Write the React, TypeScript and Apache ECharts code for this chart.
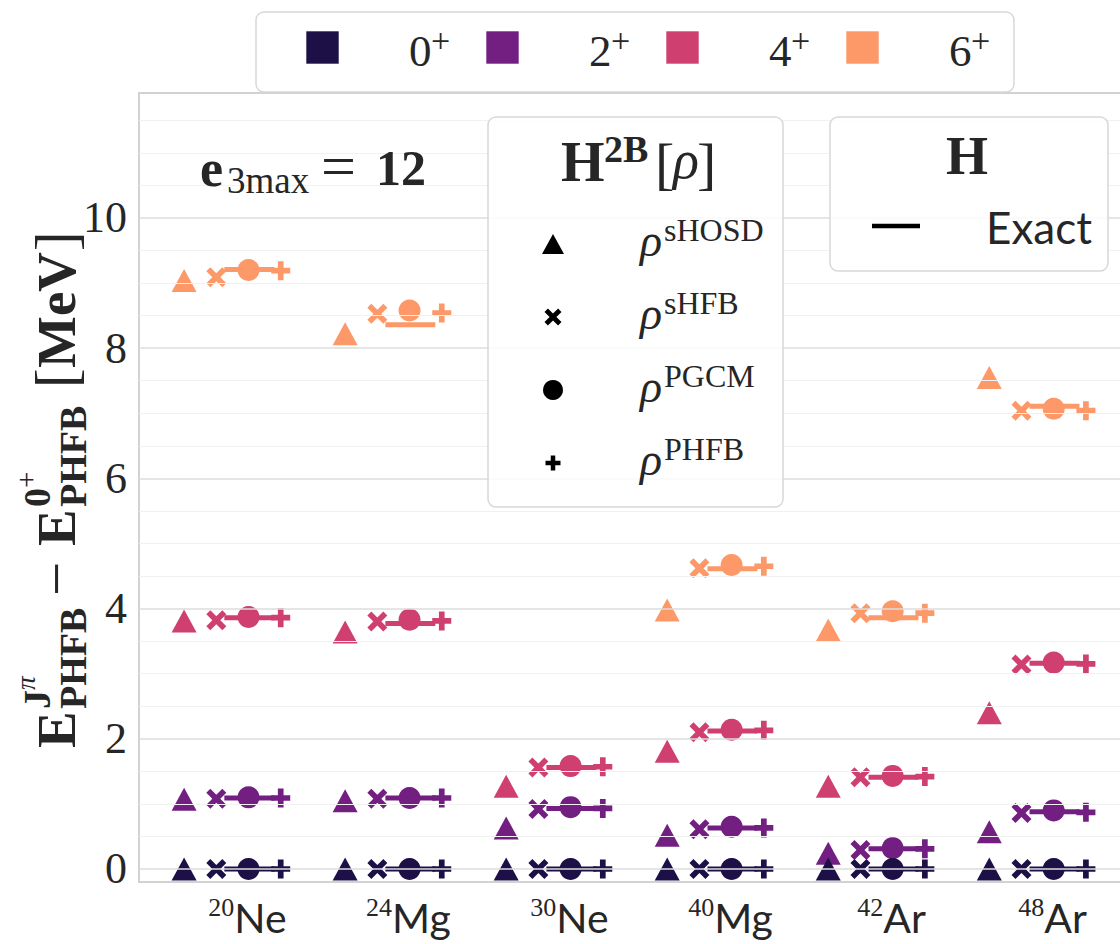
import React, { useEffect, useRef } from 'react';
import * as echarts from 'echarts';

// Nuclei along the x axis
const nucleusMass = ['20', '24', '30', '40', '42', '48'];
const nucleusSymbol = ['Ne', 'Mg', 'Ne', 'Mg', 'Ar', 'Ar'];

// Spin-parity states (J^pi = 0+, 2+, 4+, 6+)
const spinLabels = ['0', '2', '4', '6'];

const yTicks = [0, 2, 4, 6, 8, 10];
const yMinorGrid = [0.5, 1, 1.5, 2.5, 3, 3.5, 4.5, 5, 5.5, 6.5, 7, 7.5, 8.5, 9, 9.5, 10.5, 11, 11.5];
const yMajorGrid = [0, 2, 4, 6, 8, 10];

// Excitation energies [MeV]; rows = 0+, 2+, 4+, 6+, columns = nuclei
const rhoSHOSD = [
  [0, 0, 0, 0, 0, 0],
  [1.07, 1.05, 0.63, 0.52, 0.24, 0.57],
  [3.81, 3.64, 1.27, 1.81, 1.27, 2.4],
  [9.04, 8.22, null, 3.98, 3.67, 7.55],
];
const rhoSHFB = [
  [0, 0, 0, 0, 0, 0],
  [1.08, 1.08, 0.92, 0.61, 0.29, 0.86],
  [3.82, 3.8, 1.56, 2.1, 1.41, 3.14],
  [9.09, 8.53, null, 4.62, 3.93, 7.04],
];
const rhoPGCM = [
  [0, 0, 0, 0, 0, 0],
  [1.1, 1.09, 0.95, 0.65, 0.32, 0.9],
  [3.87, 3.83, 1.58, 2.14, 1.43, 3.17],
  [9.2, 8.58, null, 4.67, 3.96, 7.07],
];
const rhoPHFB = [
  [0, 0, 0, 0, 0, 0],
  [1.09, 1.09, 0.93, 0.63, 0.31, 0.87],
  [3.86, 3.81, 1.57, 2.13, 1.42, 3.15],
  [9.19, 8.54, null, 4.65, 3.93, 7.04],
];
const exactH = [
  [0, 0, 0, 0, 0, 0],
  [1.09, 1.09, 0.93, 0.63, 0.31, 0.88],
  [3.86, 3.77, 1.56, 2.12, 1.41, 3.16],
  [9.21, 8.36, null, 4.61, 3.86, 7.11],
];

const spinColors = ['#1c1046', '#721f81', '#cf4070', '#fd9869'];
const TEXT = '#262626';
const SERIF = '"Liberation Serif", "DejaVu Serif", serif';
const SANS = 'Lato, "Open Sans", sans-serif';

const CROSS_PTS = [[0, 2], [2, 0], [5, 3], [8, 0], [10, 2], [7, 5], [10, 8], [8, 10], [5, 7], [2, 10], [0, 8], [3, 5]];
const PLUS_PTS = [[3.5, 0], [6.5, 0], [6.5, 3.5], [10, 3.5], [10, 6.5], [6.5, 6.5], [6.5, 10], [3.5, 10], [3.5, 6.5], [0, 6.5], [0, 3.5], [3.5, 3.5]];
const toPath = (pts: number[][]) => 'path://M' + pts.map((p) => p.join(',')).join('L') + 'Z';

const methods = [
  { name: 'sHOSD', data: rhoSHOSD, offset: -0.3, symbol: 'triangle', size: [25, 23] },
  { name: 'sHFB', data: rhoSHFB, offset: -0.1, symbol: toPath(CROSS_PTS), size: [20, 20] },
  { name: 'PGCM', data: rhoPGCM, offset: 0.1, symbol: 'circle', size: [22, 22] },
  { name: 'PHFB', data: rhoPHFB, offset: 0.3, symbol: toPath(PLUS_PTS), size: [19, 19] },
];

const scaledPts = (pts: number[][], cx: number, cy: number, s: number) =>
  pts.map(([px, py]) => [cx + (px - 5) * (s / 10), cy + (py - 5) * (s / 10)]);

const txt = (
  text: string,
  x: number,
  y: number,
  size: number,
  o: { family?: string; weight?: string; italic?: boolean; align?: string } = {}
) => ({
  type: 'text',
  x,
  y,
  z: 110,
  style: {
    text,
    fontSize: size,
    fontFamily: o.family ?? SERIF,
    fontWeight: o.weight ?? 'normal',
    fontStyle: o.italic ? 'italic' : 'normal',
    fill: TEXT,
    align: o.align ?? 'left',
    textAlign: o.align ?? 'left',
    verticalAlign: 'middle',
    textVerticalAlign: 'middle',
  },
});

const box = (x: number, y: number, w: number, h: number) => ({
  type: 'rect',
  z: 100,
  shape: { x, y, width: w, height: h, r: 8 },
  style: { fill: 'rgba(255,255,255,0.82)', stroke: '#d8d8d8', lineWidth: 1.5 },
});

function buildGraphics() {
  const els: any[] = [];

  // spin legend
  els.push(box(256, 12, 758, 80));
  spinLabels.forEach((s, k) => {
    els.push({
      type: 'rect',
      z: 110,
      shape: { x: 306 + 180 * k, y: 31, width: 33, height: 33 },
      style: { fill: spinColors[k], stroke: 'rgba(255,255,255,0.6)', lineWidth: 1 },
    });
    els.push(txt(s, 409 + 180 * k, 51, 45));
    els.push(txt('+', 431 + 180 * k, 40, 34));
  });

  // density legend
  els.push(box(488, 117, 295, 390));
  els.push(txt('H', 561, 162, 56, { weight: 'bold' }));
  els.push(txt('2B', 604, 149, 38, { weight: 'bold' }));
  els.push(txt('[', 655, 163, 58));
  els.push(txt('ρ', 673, 160, 54, { italic: true }));
  els.push(txt(']', 697, 163, 58));
  const names = ['sHOSD', 'sHFB', 'PGCM', 'PHFB'];
  names.forEach((n, k) => {
    const cy = 244 + 73 * k;
    const cx = 553;
    if (k === 0) {
      els.push({ type: 'polygon', z: 110, shape: { points: [[cx, cy - 10], [cx + 11, cy + 10], [cx - 11, cy + 10]] }, style: { fill: '#000' } });
    } else if (k === 1) {
      els.push({ type: 'polygon', z: 110, shape: { points: scaledPts(CROSS_PTS, cx, cy, 17) }, style: { fill: '#000' } });
    } else if (k === 2) {
      els.push({ type: 'circle', z: 110, shape: { cx, cy, r: 10 }, style: { fill: '#000' } });
    } else {
      els.push({ type: 'polygon', z: 110, shape: { points: scaledPts(PLUS_PTS, cx, cy, 15) }, style: { fill: '#000' } });
    }
    els.push(txt('ρ', 640, cy - 4, 46, { italic: true }));
    els.push(txt(n, 664, cy - 14, 32));
  });

  // Hamiltonian legend
  els.push(box(830, 117, 278, 154));
  els.push(txt('H', 946, 156, 54, { weight: 'bold' }));
  els.push({ type: 'line', z: 110, shape: { x1: 872, y1: 226, x2: 920, y2: 226 }, style: { stroke: '#000', lineWidth: 4.5 } });
  els.push(txt('Exact', 986, 227, 44, { family: SANS }));

  // model-space annotation
  els.push(txt('e', 200, 168, 52, { weight: 'bold' }));
  els.push(txt('3max', 227, 180, 37));
  els.push(txt('=', 321, 166, 62));
  els.push(txt('12', 376, 168, 50, { weight: 'bold' }));

  // rotated y-axis title
  const f = 55;
  const fs = 38;
  const ff = 27;
  const mid = (base: number, size: number) => base - 0.3375 * size;
  const yl: any[] = [
    txt('E', 0, mid(0, f), f, { weight: 'bold' }),
    txt('J', 39, mid(-25, fs), fs, { weight: 'bold' }),
    txt('π', 58, mid(-40, ff), ff, { italic: true }),
    txt('PHFB', 39, mid(11, fs), fs, { weight: 'bold' }),
    txt('−', 152, mid(0, f), f + 6),
    txt('E', 202, mid(0, f), f, { weight: 'bold' }),
    txt('0', 241, mid(-25, fs), fs, { weight: 'bold' }),
    txt('+', 260, mid(-40, ff), ff + 2),
    txt('PHFB', 241, mid(11, fs), fs, { weight: 'bold' }),
    txt('[', 360, mid(0, f), f + 4),
    txt('MeV', 380, mid(0, f), f, { weight: 'bold' }),
    txt(']', 497, mid(0, f), f + 4),
  ];
  els.push({ type: 'group', x: 75, y: 748, rotation: Math.PI / 2, z: 110, children: yl });

  return els;
}

function buildSeries() {
  const series: any[] = [];

  // horizontal grid lines
  series.push({
    type: 'scatter',
    data: [],
    z: 0,
    silent: true,
    markLine: {
      silent: true,
      symbol: ['none', 'none'],
      label: { show: false },
      animation: false,
      lineStyle: { color: '#f1f1f1', width: 1, type: 'solid' },
      data: yMinorGrid.map((v) => ({ yAxis: v })),
    },
  });
  series.push({
    type: 'scatter',
    data: [],
    z: 0,
    silent: true,
    markLine: {
      silent: true,
      symbol: ['none', 'none'],
      label: { show: false },
      animation: false,
      lineStyle: { color: '#dcdcdc', width: 1.6, type: 'solid' },
      data: yMajorGrid.map((v) => ({ yAxis: v })),
    },
  });

  // draw higher spins first so that lower states stay on top
  const order = [3, 2, 1, 0];
  order.forEach((j) => {
    const color = spinColors[j];
    // exact-Hamiltonian level drawn as a short horizontal bar
    series.push({
      type: 'custom',
      z: 2 + (3 - j) * 0.01,
      silent: true,
      encode: { x: [0, 1], y: 2 },
      data: exactH[j]
        .map((v, i) => (v == null ? null : [i - 0.05, i + 0.26, v]))
        .filter(Boolean),
      renderItem: (_p: any, api: any) => {
        const y = api.value(2);
        const a = api.coord([api.value(0), y]);
        const b = api.coord([api.value(1), y]);
        return {
          type: 'line',
          shape: { x1: a[0], y1: a[1], x2: b[0], y2: b[1] },
          style: { stroke: color, lineWidth: 5, lineCap: 'butt' },
        };
      },
    });
    methods.forEach((m) => {
      series.push({
        type: 'scatter',
        name: `${m.name}-${spinLabels[j]}`,
        symbol: m.symbol,
        symbolSize: m.size,
        z: 3 + (3 - j) * 0.01,
        itemStyle: { color, opacity: 1 },
        emphasis: { disabled: true },
        data: m.data[j]
          .map((v, i) => (v == null ? null : [i + m.offset, v]))
          .filter(Boolean),
      });
    });
  });

  return series;
}

export default function App() {
  const ref = useRef<HTMLDivElement>(null);

  useEffect(() => {
    if (!ref.current) return;
    const chart = echarts.init(ref.current, null, { renderer: 'svg' });
    chart.setOption({
      animation: false,
      backgroundColor: '#ffffff',
      grid: {
        left: 139,
        top: 93,
        width: 992,
        height: 789,
        show: true,
        borderColor: '#d2d2d2',
        borderWidth: 2,
        backgroundColor: 'transparent',
        containLabel: false,
        outerBoundsMode: 'none',
      },
      xAxis: {
        type: 'value',
        min: -0.58,
        max: 5.58,
        axisLine: { show: false },
        axisTick: { show: false },
        splitLine: { show: false },
        axisLabel: {
          customValues: [0, 1, 2, 3, 4, 5],
          margin: 12,
          padding: [0, 0, 0, 30],
          formatter: (v: number) => {
            const i = Math.round(v);
            return `{m|${nucleusMass[i]}}{e|${nucleusSymbol[i]}}`;
          },
          rich: {
            m: { fontFamily: SERIF, fontSize: 26, color: TEXT, verticalAlign: 'top', lineHeight: 10 },
            e: { fontFamily: SANS, fontSize: 41, color: TEXT, lineHeight: 46 },
          },
        },
      },
      yAxis: {
        type: 'value',
        min: -0.2,
        max: 11.92,
        axisLine: { show: false },
        axisTick: { show: false },
        splitLine: { show: false },
        axisLabel: {
          customValues: yTicks,
          margin: 12,
          fontFamily: SERIF,
          fontSize: 44,
          color: TEXT,
        },
      },
      series: buildSeries(),
      graphic: { elements: buildGraphics() },
    });
    return () => chart.dispose();
  }, []);

  return (
    <div
      ref={ref}
      style={{ position: 'fixed', left: 0, top: 0, width: 1120, height: 944, background: '#fff' }}
    />
  );
}
